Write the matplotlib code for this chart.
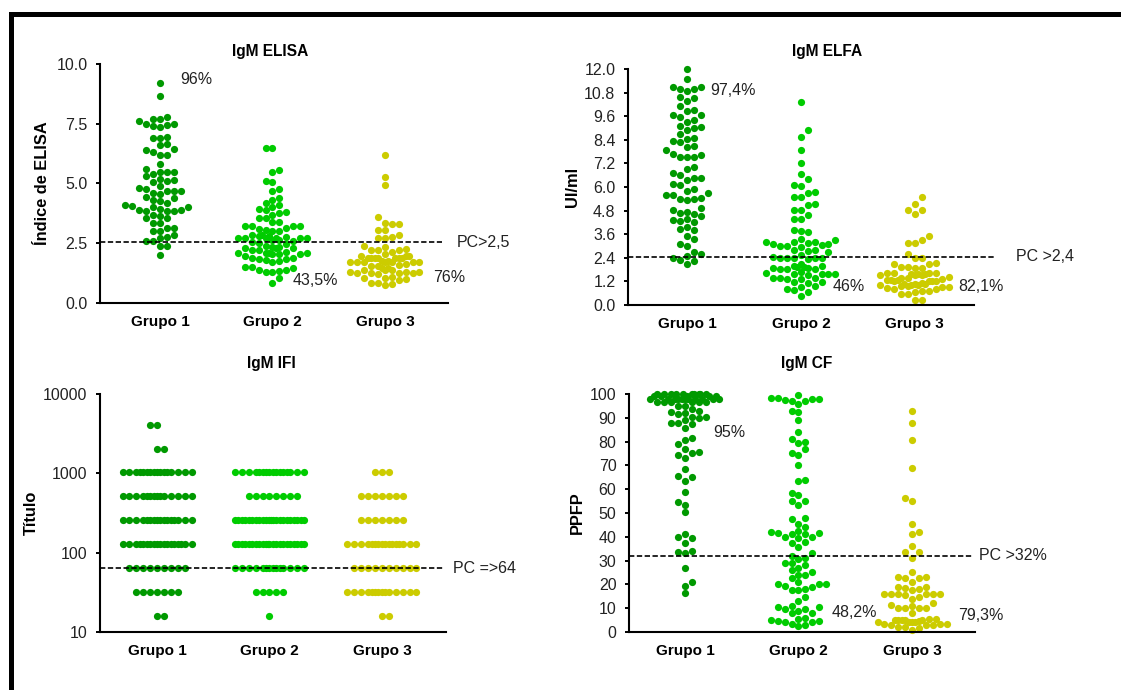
import numpy as np
import matplotlib.pyplot as plt
from matplotlib.patches import Rectangle
from matplotlib.ticker import NullLocator

plt.rcParams['font.family'] = ['Liberation Sans', 'DejaVu Sans']

groups = ["Grupo 1", "Grupo 2", "Grupo 3"]
colors = ["#009900", "#00cc00", "#cccc00"]

# IgM ELISA (indice)
elisa_g1 = [9.2, 8.65, 7.8, 7.7, 7.7, 7.6, 7.5, 7.5, 7.45, 7.4, 7.35, 6.95, 6.9, 6.9, 6.65, 6.6,
            6.45, 6.4, 6.3, 6.2, 6.2, 5.8, 5.6, 5.5, 5.5, 5.5, 5.4, 5.3, 5.2, 5.15, 5.1, 5.05, 4.9,
            4.8, 4.75, 4.7, 4.7, 4.7, 4.6, 4.55, 4.45, 4.4, 4.3, 4.25, 4.2, 4.1, 4.05, 4.0, 4.0,
            3.95, 3.9, 3.9, 3.85, 3.85, 3.85, 3.7, 3.65, 3.55, 3.55, 3.35, 3.35, 3.15, 3.15, 3.0,
            3.0, 2.85, 2.75, 2.7, 2.6, 2.6, 2.4, 2.4, 2.0]
elisa_g2 = [6.5, 6.5, 5.55, 5.5, 5.1, 5.05, 4.75, 4.7, 4.4, 4.3, 4.2, 4.1, 4.0, 3.95, 3.9, 3.8,
            3.75, 3.7, 3.55, 3.55, 3.4, 3.4, 3.2, 3.2, 3.2, 3.2, 3.15, 3.1, 3.05, 3.0, 3.0, 2.85,
            2.85, 2.8, 2.8, 2.75, 2.7, 2.7, 2.7, 2.7, 2.7, 2.7, 2.65, 2.65, 2.6, 2.55, 2.5, 2.45,
            2.4, 2.35, 2.35, 2.3, 2.3, 2.3, 2.2, 2.2, 2.15, 2.1, 2.1, 2.1, 2.1, 2.05, 2.05, 2.05,
            1.95, 1.9, 1.9, 1.85, 1.85, 1.8, 1.75, 1.7, 1.5, 1.5, 1.45, 1.4, 1.4, 1.35, 1.3, 1.3,
            1.05, 0.85]
elisa_g3 = [6.2, 5.25, 4.95, 3.6, 3.35, 3.3, 3.3, 3.05, 3.05, 2.85, 2.75, 2.7, 2.7, 2.4, 2.35,
            2.25, 2.2, 2.2, 2.2, 2.15, 2.05, 1.95, 1.95, 1.95, 1.9, 1.9, 1.9, 1.9, 1.9, 1.9, 1.9,
            1.75, 1.75, 1.7, 1.7, 1.7, 1.7, 1.7, 1.7, 1.7, 1.65, 1.6, 1.55, 1.55, 1.45, 1.45, 1.4,
            1.4, 1.4, 1.3, 1.3, 1.3, 1.25, 1.25, 1.25, 1.25, 1.2, 1.1, 1.05, 1.05, 1.0, 0.95,
            0.85, 0.85, 0.8, 0.75]

# IgM ELFA (UI/ml)
elfa_g1 = [12.0, 11.5, 11.1, 11.1, 11.0, 11.0, 10.9, 10.6, 10.5, 10.35, 10.1, 9.9, 9.85, 9.65,
           9.65, 9.55, 9.4, 9.3, 9.1, 9.05, 9.0, 8.9, 8.7, 8.5, 8.45, 8.35, 8.3, 8.1, 8.05, 7.9,
           7.7, 7.65, 7.55, 7.55, 7.55, 7.0, 6.9, 6.7, 6.6, 6.45, 6.45, 6.35, 6.15, 6.1, 5.9, 5.8,
           5.7, 5.6, 5.6, 5.45, 5.4, 5.4, 5.35, 4.95, 4.85, 4.75, 4.7, 4.65, 4.5, 4.35, 4.3, 4.25,
           4.2, 3.95, 3.85, 3.8, 3.5, 3.35, 3.1, 3.0, 2.7, 2.6, 2.5, 2.4, 2.3, 2.25, 2.1]
elfa_g2 = [10.3, 8.9, 8.55, 7.9, 7.2, 6.65, 6.4, 6.1, 6.05, 5.75, 5.7, 5.5, 5.5, 5.15, 5.1, 4.85,
           4.85, 4.6, 4.35, 4.35, 3.8, 3.75, 3.7, 3.35, 3.3, 3.2, 3.2, 3.2, 3.15, 3.1, 3.1, 3.05,
           3.0, 3.0, 2.95, 2.8, 2.8, 2.75, 2.7, 2.55, 2.45, 2.4, 2.4, 2.4, 2.4, 2.4, 2.35, 2.1,
           2.0, 2.0, 1.95, 1.95, 1.9, 1.9, 1.85, 1.85, 1.85, 1.7, 1.65, 1.6, 1.6, 1.6, 1.6, 1.5,
           1.35, 1.35, 1.35, 1.3, 1.3, 1.15, 1.15, 1.1, 0.95, 0.9, 0.8, 0.75, 0.65, 0.45]
elfa_g3 = [5.5, 5.15, 4.85, 4.85, 4.65, 3.5, 3.3, 3.15, 3.15, 2.6, 2.4, 2.4, 2.15, 2.1, 2.1, 1.95,
           1.95, 1.9, 1.9, 1.65, 1.65, 1.65, 1.65, 1.55, 1.55, 1.55, 1.5, 1.5, 1.5, 1.4, 1.35,
           1.35, 1.3, 1.25, 1.25, 1.25, 1.2, 1.2, 1.2, 1.2, 1.1, 1.05, 1.05, 1.05, 1.0, 1.0, 1.0,
           0.95, 0.95, 0.9, 0.9, 0.85, 0.8, 0.8, 0.7, 0.7, 0.65, 0.55, 0.55, 0.25, 0.25]

# IgM IFI: number of sera at each titre
ifi_titres = [16, 32, 64, 128, 256, 512, 1024, 2048, 4096]
ifi_g1 = [2, 7, 9, 18, 16, 14, 16, 2, 2]
ifi_g2 = [1, 5, 14, 22, 22, 8, 16, 0, 0]
ifi_g3 = [2, 14, 10, 16, 7, 7, 3, 0, 0]

# IgM CF (PPFP)
cf_g1 = [100, 100, 100, 100, 100, 100, 100, 100, 100, 100, 99, 99, 99, 99, 99,
         98, 98, 98, 98, 98, 98, 98, 98, 98, 98, 98, 96.5, 96.5, 96.5, 96.5, 96.5, 96.5,
         95, 95, 93.5, 93, 92.5, 92, 91.5, 90.5, 90.5, 90, 89, 88, 88, 87.5, 85.5, 81.5, 80.5,
         79, 77, 75.5, 75, 74.5, 73, 68.5, 65.5, 65, 63.5, 59, 54.5, 53.5, 50.5, 41, 40, 39.5,
         37.5, 34, 33.5, 33, 27, 21, 19.5, 16.5]
cf_g2 = [99.5, 98.5, 98.5, 98, 98, 97.5, 97, 97, 96, 93, 92.5, 89, 84, 81, 80, 79.5, 77, 75, 74.5,
         70, 64, 63.5, 58.5, 57.5, 55, 55, 53.5, 48, 47.5, 45.5, 44, 42.5, 42, 41.5, 41.5, 41,
         41, 40, 40, 39.5, 38, 37.5, 35.5, 33, 32, 31, 30.5, 29, 29, 28, 27, 26, 25, 24, 24,
         22.5, 21, 20, 20, 20, 19.5, 19, 18, 17.5, 17.5, 14.5, 13, 11, 10.5, 10.5, 9.5, 9.5, 9,
         8, 8, 6, 5.5, 5, 4.5, 4.5, 4, 4, 3.5, 3, 2.5]
cf_g3 = [93, 88, 80.5, 69, 56.5, 55, 45.5, 42, 41, 36, 33.5, 33.5, 31, 25, 23, 23, 22.5, 22.5, 21,
         19, 19, 18.5, 18, 17.5, 16, 16, 16, 16, 16, 16, 15.5, 14.5, 14, 12, 11.5, 11, 10, 10,
         10, 10, 8, 5.5, 5.5, 5, 5, 5, 5, 5, 4.5, 4, 4, 4, 4, 3.5, 3.5, 3.5, 3, 3, 3, 2, 2,
         1.5, 1]

cutoffs = {"elisa": 2.55, "elfa": 2.44, "ifi": 64, "cf": 32}


def swarm_x(ax, center, vals, gap, d=6.9, kmax=5):
    # column beeswarm in pixel space, like Prism's scatter dot plots
    vals = np.asarray(vals, float)
    tr = ax.transData
    ypx = tr.transform(np.column_stack([np.full(len(vals), center), vals]))[:, 1]
    unit = tr.transform((1, 1))[0] - tr.transform((0, 1))[0]
    tiers = [[float(k) for k in range(0, kmax + 1)],
             [k + 0.5 for k in range(0, kmax)],
             [k + 0.25 for k in range(0, kmax)] + [k + 0.75 for k in range(0, kmax)]]
    cols = {}
    offs = np.zeros(len(vals))
    flip = 1

    def free(pos, y):
        return all(abs(y - yy) >= gap for yy in cols.get(round(pos * 4), []))

    for i in np.argsort(vals, kind="stable"):
        y = ypx[i]
        chosen = None
        for tier in tiers:
            for m in tier:
                if m == 0:
                    if free(0.0, y):
                        chosen = 0.0
                else:
                    r, l = free(m, y), free(-m, y)
                    if r and l:
                        chosen = m * flip
                        flip = -flip
                    elif r:
                        chosen = m
                    elif l:
                        chosen = -m
                if chosen is not None:
                    break
            if chosen is not None:
                break
        if chosen is None:
            chosen = 0.0
        cols.setdefault(round(chosen * 4), []).append(y)
        offs[i] = chosen
    return center + offs * d / unit


def panel(rect, xlim, ylim, yticks, yticklabels, ylabel, label_x, title, title_xy,
          data, gap, cut, cut_end, pc_text, pc_x, notes, log=False):
    ax = fig.add_axes(rect)
    if log:
        ax.set_yscale("log")
        ax.yaxis.set_minor_locator(NullLocator())
    ax.set_xlim(*xlim)
    ax.set_ylim(*ylim)
    ax.set_yticks(yticks)
    ax.set_yticklabels(yticklabels, fontsize=11.5, color="#222222")
    ax.set_xticks(range(3))
    ax.set_xticklabels(groups, fontsize=11, fontweight="bold")
    ax.tick_params(axis="x", length=0, pad=9)
    ax.tick_params(axis="y", direction="out", length=3, width=1.4, pad=6)
    for s in ["top", "right"]:
        ax.spines[s].set_visible(False)
    for s in ["left", "bottom"]:
        ax.spines[s].set_linewidth(1.5)
    ax.set_ylabel(ylabel, fontsize=11.8, fontweight="bold")
    ax.yaxis.set_label_coords(label_x, 0.5)
    ax.text(title_xy[0], title_xy[1], title, transform=ax.transAxes, ha="center",
            va="center", fontsize=11.2, fontweight="bold")

    for i, vals in enumerate(data):
        xs = swarm_x(ax, i, vals, gap)
        ax.scatter(xs, vals, s=27, color=colors[i], linewidths=0, zorder=2, clip_on=False)

    ax.plot([xlim[0], cut_end], [cut, cut], color="black", lw=1.2, dashes=(3.2, 1.5),
            zorder=3, clip_on=False)
    ax.text(pc_x, cut, pc_text, fontsize=11.5, ha="left", va="center", color="#222222")
    for x, y, s in notes:
        ax.text(x, y, s, fontsize=11.5, ha="left", va="center", color="#222222")
    return ax


fig = plt.figure(figsize=(11.21, 6.90), dpi=100)

panel([0.0892, 0.5609, 0.3104, 0.3464], (-0.533, 2.56), (0, 10),
      [0, 2.5, 5, 7.5, 10], ["0.0", "2.5", "5.0", "7.5", "10.0"],
      "Índice de ELISA", -0.144, "IgM ELISA", (0.489, 1.054),
      [elisa_g1, elisa_g2, elisa_g3], 7.0, cutoffs["elisa"], 2.507, "PC>2,5", 2.64,
      [(0.18, 9.33, "96%"), (1.18, 0.92, "43,5%"), (2.43, 1.05, "76%")])

elfa_ticks = [0, 1.2, 2.4, 3.6, 4.8, 6.0, 7.2, 8.4, 9.6, 10.8, 12.0]
panel([0.5602, 0.5580, 0.3087, 0.3420], (-0.518, 2.52), (0, 12),
      elfa_ticks, ["%.1f" % t for t in elfa_ticks],
      "UI/ml", -0.139, "IgM ELFA", (0.575, 1.076),
      [elfa_g1, elfa_g2, elfa_g3], 7.0, cutoffs["elfa"], 2.70, "PC >2,4", 2.89,
      [(0.20, 10.93, "97,4%"), (1.28, 0.92, "46%"), (2.38, 0.92, "82,1%")])

ifi_data = [np.repeat(ifi_titres, c) for c in (ifi_g1, ifi_g2, ifi_g3)]
panel([0.0892, 0.0841, 0.3087, 0.3449], (-0.507, 2.57), (10, 10000),
      [10, 100, 1000, 10000], ["10", "100", "1000", "10000"],
      "Título", -0.176, "IgM IFI", (0.494, 1.13),
      ifi_data, 5.0, cutoffs["ifi"], 2.54, "PC =>64", 2.63, [], log=True)

panel([0.5611, 0.0841, 0.3087, 0.3449], (-0.493, 2.555), (0, 100),
      list(range(0, 101, 10)), [str(t) for t in range(0, 101, 10)],
      "PPFP", -0.127, "IgM CF", (0.514, 1.13),
      [cf_g1, cf_g2, cf_g3], 7.0, cutoffs["cf"], 2.54, "PC >32%", 2.59,
      [(0.25, 84, "95%"), (1.29, 8, "48,2%"), (2.41, 7.1, "79,3%")])

# thick frame around the whole figure (cut off at right and bottom)
fig.add_artist(Rectangle((0.0094, -0.05), 1.2, 1.029, transform=fig.transFigure,
                         fill=False, lw=3.6, edgecolor="black", clip_on=False))

fig.savefig("out.png", dpi=100)
